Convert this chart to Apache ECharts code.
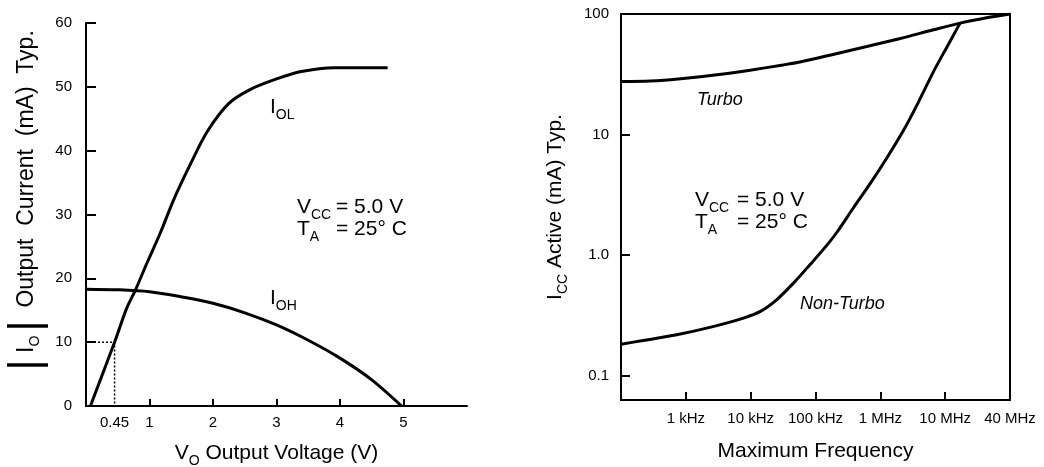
<!DOCTYPE html>
<html><head><meta charset="utf-8">
<script src="https://cdn.jsdelivr.net/npm/echarts@6/dist/echarts.min.js"></script>
<style>html,body{margin:0;padding:0;background:#fff}#c{width:1044px;height:467px}</style>
</head><body><div id="c"></div>
<script>
const FONT = '"Liberation Sans", Arial, Helvetica, sans-serif';

// ---- Left panel: |IO| vs VO ----
const voltTickLabels = [0.45, 1, 2, 3, 4, 5];
const voltTickMarks = [1, 2, 3, 4, 5];
const iolVolts   = [0.07, 0.45, 0.64, 0.78, 0.96, 1.17, 1.38, 1.65, 1.91, 2.25, 2.59, 2.99, 3.39, 3.91, 4.75];
const iolCurrent = [0,    10,   15.3, 18.2, 22.4, 27.1, 32.3, 38.0, 43.0, 47.4, 49.6, 51.2, 52.4, 53.0, 53.0];
const iohVolts   = [0,    0.5,  1,    1.5,  2,    2.5,  3,    3.5,  4,   4.5, 4.97];
const iohCurrent = [18.3, 18.2, 17.9, 17.1, 16.1, 14.6, 12.7, 10.3, 7.5, 4.1, 0];
const guideVolts   = [0, 0.45, 0.45];
const guideCurrent = [10, 10, 0];

// ---- Right panel: ICC vs frequency ----
const freqLabels = ['1 kHz', '10 kHz', '100 kHz', '1 MHz', '10 MHz', '40 MHz'];
const freqPositions = [1, 2, 3, 4, 5, 6];
const freqTickMarks = [1, 2, 3, 4, 5];
const iccTicks = [0.1, 1, 10, 100];
const iccTickLabels = ['0.1', '1.0', '10', '100'];
const turboPos = [0, 0.45, 0.96, 1.48, 1.99, 2.5, 2.76, 3.27, 3.79, 4.31, 4.82, 5.23, 5.64, 6];
const turboIcc = [27.5, 27.8, 29.2, 31.3, 34.2, 37.8, 40.0, 46.2, 53.7, 62.7, 74, 84, 93, 100];
const nonTurboPos = [0, 0.34, 0.86, 1.37, 1.89, 2.15, 2.40, 2.66, 2.92, 3.17, 3.33, 3.58, 3.84, 4.10, 4.36, 4.59, 4.82, 5.03, 5.23];
const nonTurboIcc = [0.183, 0.196, 0.219, 0.252, 0.301, 0.342, 0.427, 0.587, 0.84, 1.2, 1.55, 2.45, 3.9, 6.4, 10.9, 18.7, 33.3, 53.6, 84];

const zip = (a, b) => a.map((v, i) => [v, b[i]]);

const richBase = {
  n: { fontSize: 21, lineHeight: 30, verticalAlign: 'middle', fontFamily: FONT, color: '#000' },
  ny: { fontSize: 23, lineHeight: 30, verticalAlign: 'middle', fontFamily: FONT, color: '#000' },
  sub: { fontSize: 14, lineHeight: 14, verticalAlign: 'bottom', fontFamily: FONT, color: '#000' },
  bar: { fontSize: 44, lineHeight: 30, verticalAlign: 'middle', fontFamily: FONT, color: '#000' },
  it: { fontSize: 18, lineHeight: 22, verticalAlign: 'middle', fontFamily: FONT, fontStyle: 'italic', color: '#000' }
};

const axisLineStyle = { color: '#000', width: 2 };
const tickLabel = { color: '#000', fontSize: 15, fontFamily: FONT };

function txt(x, y, text) {
  return { type: 'text', x: x, y: y, style: { text: text, rich: richBase, align: 'left', verticalAlign: 'middle', fill: '#000', font: '21px ' + FONT } };
}

const option = {
  backgroundColor: '#fff',
  animation: false,
  grid: [
    { left: 86, top: 23, width: 381, height: 383, outerBoundsMode: 'none', containLabel: false },
    { left: 621, top: 14, width: 389, height: 386, outerBoundsMode: 'none', containLabel: false, show: true, borderColor: '#000', borderWidth: 2, backgroundColor: 'transparent' }
  ],
  xAxis: [
    {
      gridIndex: 0, type: 'value', min: 0, max: 6,
      axisLine: { lineStyle: axisLineStyle },
      axisTick: { inside: true, length: 7, customValues: voltTickMarks, lineStyle: axisLineStyle },
      axisLabel: Object.assign({ customValues: voltTickLabels, margin: 9, formatter: v => String(v) }, tickLabel),
      splitLine: { show: false },
      name: '{n|V}{sub|O}{n| Output Voltage (V)}', nameLocation: 'middle', nameGap: 32,
      nameTextStyle: { rich: richBase }
    },
    {
      gridIndex: 1, type: 'value', min: 0, max: 6,
      axisLine: { lineStyle: axisLineStyle },
      axisTick: { inside: true, length: 8, customValues: freqTickMarks, lineStyle: axisLineStyle },
      axisLabel: Object.assign({ customValues: freqPositions, margin: 11, formatter: v => freqLabels[freqPositions.indexOf(v)] }, tickLabel),
      splitLine: { show: false },
      name: '{n|Maximum Frequency}', nameLocation: 'middle', nameGap: 36,
      nameTextStyle: { rich: richBase }
    }
  ],
  yAxis: [
    {
      gridIndex: 0, type: 'value', min: 0, max: 60, interval: 10,
      axisLine: { show: true, lineStyle: axisLineStyle },
      axisTick: { show: true, inside: true, length: 10, lineStyle: axisLineStyle },
      axisLabel: Object.assign({ margin: 14 }, tickLabel),
      splitLine: { show: false },
      name: '{bar||}{ny| I}{sub|O }{bar||}{ny|  Output  Current  (mA)  Typ.}', nameLocation: 'middle', nameGap: 44,
      nameTextStyle: { rich: richBase, padding: [0, 0, 0, 28] }
    },
    {
      gridIndex: 1, type: 'log', logBase: 10, min: 0.063, max: 100,
      axisLine: { show: true, lineStyle: axisLineStyle },
      axisTick: { show: true, inside: true, length: 9, customValues: [0.1, 1, 10], lineStyle: axisLineStyle },
      axisLabel: Object.assign({ customValues: iccTicks, margin: 12, formatter: v => iccTickLabels[iccTicks.findIndex(t => Math.abs(t - v) < 1e-9)] }, tickLabel),
      splitLine: { show: false },
      name: '{n|I}{sub|CC}{n| Active (mA) Typ.}', nameLocation: 'middle', nameGap: 51,
      nameTextStyle: { rich: richBase }
    }
  ],
  series: [
    { name: 'IOL', type: 'line', xAxisIndex: 0, yAxisIndex: 0, data: zip(iolVolts, iolCurrent), showSymbol: false, smooth: 0.3, lineStyle: { color: '#000', width: 3 }, silent: true },
    { name: 'IOH', type: 'line', xAxisIndex: 0, yAxisIndex: 0, data: zip(iohVolts, iohCurrent), showSymbol: false, smooth: 0.3, lineStyle: { color: '#000', width: 3 }, silent: true },
    { name: 'guide', type: 'line', xAxisIndex: 0, yAxisIndex: 0, data: zip(guideVolts, guideCurrent), showSymbol: false, lineStyle: { color: '#000', width: 1.5, type: [2, 2] }, silent: true },
    { name: 'Turbo', type: 'line', xAxisIndex: 1, yAxisIndex: 1, data: zip(turboPos, turboIcc), showSymbol: false, smooth: 0.3, lineStyle: { color: '#000', width: 3 }, silent: true },
    { name: 'Non-Turbo', type: 'line', xAxisIndex: 1, yAxisIndex: 1, data: zip(nonTurboPos, nonTurboIcc), showSymbol: false, smooth: 0.3, lineStyle: { color: '#000', width: 3 }, silent: true }
  ],
  graphic: [
    txt(270, 107, '{n|I}{sub|OL}'),
    txt(270, 298, '{n|I}{sub|OH}'),
    txt(297, 207, '{n|V}{sub|CC}'),
    txt(336, 207, '{n|= 5.0 V}'),
    txt(297, 229, '{n|T}{sub|A}'),
    txt(336, 229, '{n|= 25° C}'),
    txt(695, 200, '{n|V}{sub|CC}'),
    txt(737, 200, '{n|= 5.0 V}'),
    txt(695, 222, '{n|T}{sub|A}'),
    txt(737, 222, '{n|= 25° C}'),
    txt(697, 100, '{it|Turbo}'),
    txt(800, 304, '{it|Non-Turbo}')
  ]
};

const chart = echarts.init(document.getElementById('c'), null, { renderer: 'canvas' });
chart.setOption(option);
</script>
</body></html>
